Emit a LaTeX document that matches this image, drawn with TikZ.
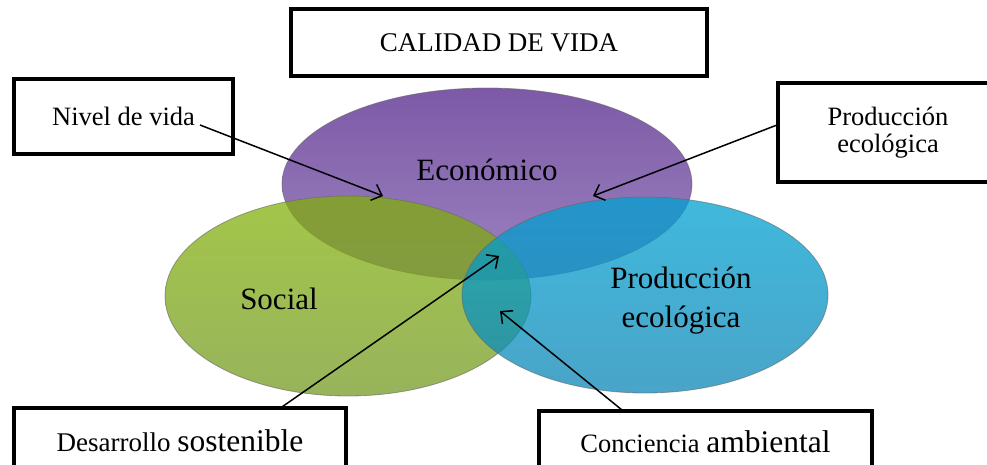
\documentclass[tikz,border=0pt]{standalone}
\usepackage{fontspec}
\setmainfont{Liberation Serif}
\usetikzlibrary{shapes.geometric,arrows.meta}
\definecolor{purT}{HTML}{734CA0}
\definecolor{purB}{HTML}{9379BB}
\definecolor{grnT}{HTML}{81B004}
\definecolor{grnB}{HTML}{70971D}
\definecolor{bluT}{HTML}{00A2D2}
\definecolor{bluB}{HTML}{0D86B6}
\newcommand\bigwfont{\fontsize{31.5}{33}\selectfont}
\begin{document}
\begin{tikzpicture}[x=1pt,y=-1pt,
  lbox/.style={draw=black,line width=4pt,fill=white,rectangle,inner sep=0pt,align=center,font=\fontsize{26.5}{28}\selectfont},
  circ/.style={ellipse,inner sep=0pt,draw=black!60,line width=0.8pt,draw opacity=0.6},
  bigtxt/.style={font=\fontsize{31}{39}\selectfont,align=center,inner sep=0pt},
  arr/.style={line width=1.5pt,-{Straight Barb[length=9pt,width=17pt,line width=1.5pt]}}]
\useasboundingbox (0,0) rectangle (987,465);
\clip (0,0) rectangle (987,465);
\fill[white] (0,0) rectangle (987,465);
% ellipses
\node[circ,fill opacity=0.92,top color=purT,bottom color=purB,minimum width=410pt,minimum height=192pt] (eco) at (487,184) {};
\node[circ,fill opacity=0.72,top color=grnT,bottom color=grnB,minimum width=366pt,minimum height=200pt] (soc) at (348,296) {};
\node[circ,fill opacity=0.75,top color=bluT,bottom color=bluB,minimum width=366pt,minimum height=196pt] (pro) at (645,295) {};
\node[bigtxt] (ecot) at (487,170) {Económico};
\node[bigtxt] (soct) at (279,299) {Social};
\node[bigtxt] (prot) at (681,301) {Producción\\ecológica};
% boxes
\node[lbox,minimum width=416pt,minimum height=67pt,font=\fontsize{27}{29}\selectfont] (cal) at (499,42.5) {CALIDAD DE VIDA};
\node[lbox,minimum width=219pt,minimum height=75pt] (niv) at (123.5,116.5) {Nivel de vida};
\node[lbox,minimum width=220pt,minimum height=99pt,font=\fontsize{26.5}{27}\selectfont] (pbox) at (888,133) {Producción\\ecológica};
\node[lbox,minimum width=332pt,minimum height=66pt,font=\fontsize{27}{29}\selectfont] (des) at (180,441) {Desarrollo {\bigwfont sostenible}};
\node[lbox,minimum width=333pt,minimum height=62pt] (con) at (705.5,442) {Conciencia {\bigwfont ambiental}};
% arrow ends
\coordinate (n1) at (200,125);
\coordinate (n2) at (383,196);
\coordinate (p1) at (777,125);
\coordinate (p2) at (593,196);
\coordinate (d1) at (279,409);
\coordinate (d2) at (499,256);
\coordinate (c1) at (622,410);
\coordinate (c2) at (500,311);
\draw[arr] (n1) -- (n2);
\draw[arr] (p1) -- (p2);
\draw[arr] (d1) -- (d2);
\draw[arr] (c1) -- (c2);
\end{tikzpicture}
\end{document}
